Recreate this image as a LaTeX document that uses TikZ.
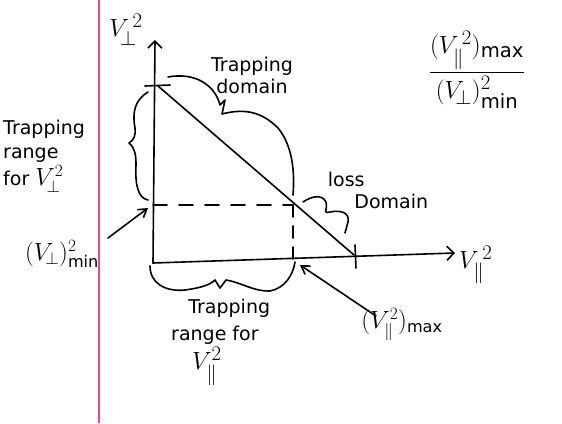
\documentclass[tikz,border=0pt]{standalone}
\usepackage{amsmath}
\usepackage{fontspec}
\setmainfont{DejaVu Sans}
\usetikzlibrary{arrows.meta}
\definecolor{marginpink}{RGB}{232,70,150}
\tikzset{
  pen/.style={line width=1.6pt, line cap=round, line join=round, black},
  lbl/.style={font=\fontsize{19}{22}\selectfont, align=center, inner sep=1pt},
  big/.style={font=\fontsize{28}{30}\selectfont, inner sep=1pt},
  mid/.style={font=\fontsize{23}{26}\selectfont, inner sep=1pt},
  ptr/.style={pen, -{Straight Barb[length=8pt,width=10pt]}},
}
\begin{document}
\begin{tikzpicture}[x=1pt,y=-1pt]
\useasboundingbox (0,0) rectangle (562,423);
\fill[white] (0,0) rectangle (562,423);
% margin line
\draw[marginpink, line width=2.4pt] (99,0) -- (99,423);
% coordinates
\coordinate (O) at (153,263);
\coordinate (Ytop) at (155,40);
\coordinate (Xend) at (455,253);
\coordinate (T1) at (158,86);
\coordinate (T2) at (354,255);
\coordinate (Dy) at (153,205);
\coordinate (P) at (293,205);
\coordinate (Px) at (293,259);
% axes
\draw[pen, -{Straight Barb[length=7pt,width=14pt]}] (O) -- (Ytop);
\draw[pen, -{Straight Barb[length=7pt,width=14pt]}] (O) -- (Xend);
% ticks
\draw[pen] (145,86) -- (170,85);
\draw[pen] (355,245) -- (356,268);
% diagonal
\draw[pen] (T1) -- (T2);
% dashed
\draw[pen, dash pattern=on 14pt off 12pt] (Dy) -- (P);
\draw[pen, dash pattern=on 12pt off 9pt] (P) -- (Px);
% trapping domain brace
\draw[pen] (168,77) .. controls (195,72) and (215,85) .. (220,105)
  -- (225,100) -- (222,114) .. controls (245,108) and (262,112) .. (278,128)
  .. controls (292,145) and (295,170) .. (293,195);
% left brace
\draw[pen] (148,92) .. controls (135,100) and (132,112) .. (135,128)
  .. controls (136,135) and (134,140) .. (129,143)
  .. controls (135,148) and (136,155) .. (136,165)
  .. controls (135,185) and (138,198) .. (148,200);
% bottom brace
\draw[pen] (150,266) .. controls (150,283) and (165,292) .. (185,290)
  .. controls (200,288) and (210,285) .. (215,280) -- (220,288) -- (226,280)
  .. controls (240,282) and (255,292) .. (270,291)
  .. controls (285,288) and (293,275) .. (295,262);
% loss domain squiggle
\draw[pen] (303,202) .. controls (312,196) and (322,194) .. (326,202)
  .. controls (328,210) and (322,214) .. (330,212)
  .. controls (340,210) and (350,212) .. (348,222) -- (345,233);
% labels
\node[big] (vperp) at (126,30) {$V_{\!\perp}^{\,2}$};
\node[big, anchor=west] (vpar) at (458,265) {$V_{\parallel}^{\,2}$};
\node[lbl] (tdom) at (252,75) {Trapping\\[0pt]domain};
\node[lbl, align=left] (loss) at (378,190) {loss\\[0pt]\hspace{1.4em}Domain};
\node[lbl, align=left, anchor=west] (trperp) at (2,156) {Trapping\\[2pt]range\\[2pt]for {\fontsize{24}{26}\selectfont$V_{\!\perp}^{2}$}};
\node[mid] (vpmin) at (62,254) {$(V_{\!\perp})^{2}_{\mathrm{min}}$};
\node[mid] (vpmax) at (402,325) {$(V_{\parallel}^{2})_{\mathrm{max}}$};
\node[lbl, align=left, anchor=north west] (trpar) at (170,298) {\hspace{0.9em}Trapping\\[5pt]range for\\[2pt]\hspace{1.1em}\fontsize{28}{30}\selectfont$V_{\parallel}^{2}$};
\node[big] (ratio) at (477,70) {$\dfrac{(V_{\parallel}^{\,2})_{\mathrm{max}}}{(V_{\!\perp})^{2}_{\mathrm{min}}}$};
% pointers
\draw[ptr] (108,238) -- (148,208);
\draw[ptr] (376,316) -- (300,265);
\end{tikzpicture}
\end{document}
